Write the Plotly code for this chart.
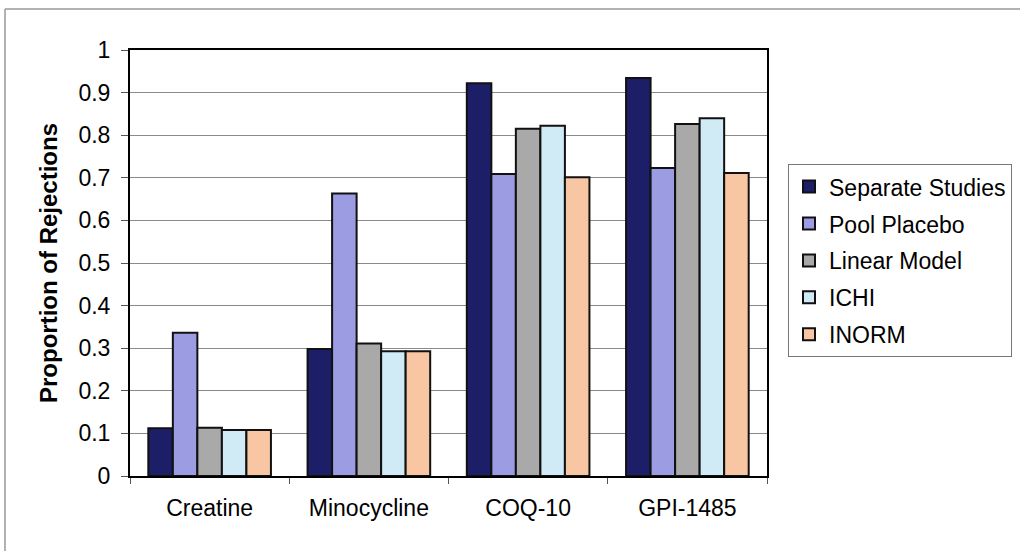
import plotly.graph_objects as go

categories = ["Creatine", "Minocycline", "COQ-10", "GPI-1485"]
series_names = ["Separate Studies", "Pool Placebo", "Linear Model", "ICHI", "INORM"]
separate_studies = [0.112, 0.298, 0.922, 0.934]
pool_placebo = [0.336, 0.663, 0.709, 0.723]
linear_model = [0.113, 0.311, 0.815, 0.826]
ichi = [0.108, 0.293, 0.822, 0.840]
inorm = [0.108, 0.293, 0.701, 0.711]
y_ticks = [0, 0.1, 0.2, 0.3, 0.4, 0.5, 0.6, 0.7, 0.8, 0.9, 1]
y_tick_labels = ["0", "0.1", "0.2", "0.3", "0.4", "0.5", "0.6", "0.7", "0.8", "0.9", "1"]

colors = ["#1c1f68", "#9c9ce2", "#a9a9a9", "#d0eaf6", "#f8c6a2"]
values = [separate_studies, pool_placebo, linear_model, ichi, inorm]

fig = go.Figure()
for i, (name, vals) in enumerate(zip(series_names, values)):
    fig.add_trace(go.Bar(
        x=categories, y=vals, name=name, legendgroup=name,
        marker=dict(color=colors[i], line=dict(color="#111111", width=2)),
    ))

fig.update_layout(
    width=1020, height=551,
    margin=dict(l=130, r=253, t=50, b=75, autoexpand=False),
    paper_bgcolor="white", plot_bgcolor="white",
    barmode="group", bargap=0.23, bargroupgap=0,
    font=dict(family="Arial, Liberation Sans, sans-serif", color="black", size=23),
    legend=dict(
        x=1.033, y=0.732, xanchor="left", yanchor="top",
        bordercolor="#777777", borderwidth=1,
        font=dict(size=23, color="black"),
        traceorder="grouped", tracegroupgap=4,
        itemwidth=30,
    ),
    showlegend=True,
)
fig.update_xaxes(
    showline=True, linecolor="black", linewidth=2, mirror=True,
    ticks="outside", tickson="boundaries", ticklen=6, tickcolor="#555555",
    tickfont=dict(size=23), ticklabelstandoff=10,
)
fig.update_yaxes(
    range=[0, 1], tickvals=y_ticks, ticktext=y_tick_labels,
    showline=True, linecolor="black", linewidth=2, mirror=True,
    ticks="outside", ticklen=7, tickcolor="#555555",
    showgrid=True, gridcolor="#8a8a8a", gridwidth=1,
    tickfont=dict(size=23), ticklabelstandoff=6,
    title=dict(text="<b>Proportion of Rejections</b>", font=dict(size=24), standoff=14),
    zeroline=False,
)
# outer chart border (top and left visible)
fig.add_shape(type="line", xref="paper", yref="paper",
              x0=(5 - 130) / 637, x1=(1020 - 130) / 637,
              y0=(476 - 9) / 426, y1=(476 - 9) / 426,
              line=dict(color="#999999", width=1.5))
fig.add_shape(type="line", xref="paper", yref="paper",
              x0=(5 - 130) / 637, x1=(5 - 130) / 637,
              y0=(476 - 9) / 426, y1=(476 - 551) / 426,
              line=dict(color="#999999", width=1.5))

fig.write_html("out.html")
